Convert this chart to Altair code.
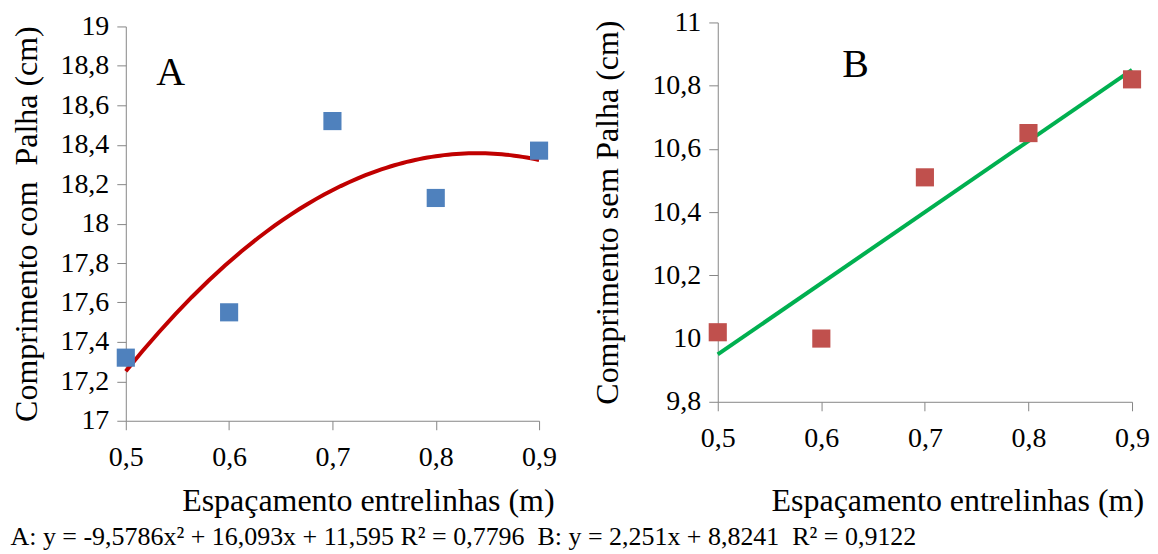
import altair as alt
import pandas as pd

# ---- data ----
espacamento = [0.5, 0.6, 0.7, 0.8, 0.9]
com_palha = [17.32, 17.55, 18.52, 18.13, 18.37]
sem_palha = [10.02, 10.00, 10.51, 10.65, 10.82]
x_ticks = [0.5, 0.6, 0.7, 0.8, 0.9]
y_ticks_a = [17, 17.2, 17.4, 17.6, 17.8, 18, 18.2, 18.4, 18.6, 18.8, 19]
y_ticks_b = [9.8, 10, 10.2, 10.4, 10.6, 10.8, 11]
footer = ("A: y = -9,5786x\u00b2 + 16,093x + 11,595 R\u00b2 = 0,7796\u00a0 "
          "B: y = 2,251x + 8,8241\u00a0 R\u00b2 = 0,9122")

df_a = pd.DataFrame({"x": espacamento, "y": com_palha})
df_b = pd.DataFrame({"x": espacamento, "y": sem_palha})

FONT = "Liberation Serif"
GRAY = "#868686"
LBL = "replace(format(datum.value, '~g'), '.', ',')"

W_A, H_A = 414, 399
W_B, H_B = 415, 380


def x_axis(title_x, title_y):
    return alt.Axis(values=x_ticks, labelExpr=LBL, title="Espaçamento entrelinhas (m)",
                    grid=False, tickSize=9, labelPadding=14, labelFontSize=28,
                    labelFont=FONT, labelColor="black", domainColor=GRAY, tickColor=GRAY,
                    titleFont=FONT, titleFontSize=32, titleFontWeight="normal",
                    titleColor="black", titleX=title_x, titleY=title_y,
                    titleBaseline="alphabetic", titleAlign="center", labelFlush=False)


def y_axis(title, values, pad):
    return alt.Axis(values=values, labelExpr=LBL, title=title, grid=False,
                    tickSize=9, labelPadding=8, labelFontSize=28, labelFont=FONT,
                    labelColor="black", domainColor=GRAY, tickColor=GRAY,
                    titleFont=FONT, titleFontSize=32, titleFontWeight="normal",
                    titleColor="black", titlePadding=pad, labelFlush=False)


xa = alt.X("x:Q", scale=alt.Scale(domain=[0.5, 0.9], nice=False, zero=False),
           axis=x_axis(367.5 - 125, 90))
ya = alt.Y("y:Q", scale=alt.Scale(domain=[17, 19], nice=False, zero=False,
                                  range=[H_A, 4]),
           axis=y_axis("Comprimento com\u00a0 Palha (cm)", y_ticks_a, 16.5))

base_a = alt.Chart(df_a)
pts_a = base_a.mark_square(size=330, color="#4F81BD", opacity=1).encode(x=xa, y=ya)
fit_a = base_a.transform_regression("x", "y", method="poly", order=2,
                                    extent=[0.5, 0.9]).mark_line(
    color="#C00000", strokeWidth=4).encode(x=xa, y=ya)
lab_a = alt.Chart(pd.DataFrame({"t": ["A"]})).mark_text(
    font=FONT, fontSize=40, align="center", baseline="alphabetic", color="black"
).encode(text="t:N", x=alt.value(45), y=alt.value(63))

panel_a = alt.layer(fit_a, pts_a, lab_a).properties(width=W_A, height=H_A)

xb = alt.X("x:Q", scale=alt.Scale(domain=[0.5, 0.9], nice=False, zero=False),
           axis=x_axis(957 - 717, 109))
yb = alt.Y("y:Q", scale=alt.Scale(domain=[9.8, 11], nice=False, zero=False),
           axis=y_axis("Comprimento sem Palha (cm)", y_ticks_b, 27))

base_b = alt.Chart(df_b)
pts_b = base_b.mark_square(size=330, color="#C0504D", opacity=1).encode(x=xb, y=yb)
fit_b = base_b.transform_regression("x", "y", method="linear",
                                    extent=[0.5, 0.9]).mark_line(
    color="#00B050", strokeWidth=4).encode(x=xb, y=yb)
lab_b = alt.Chart(pd.DataFrame({"t": ["B"]})).mark_text(
    font=FONT, fontSize=40, align="center", baseline="alphabetic", color="black"
).encode(text="t:N", x=alt.value(138), y=alt.value(55))

panel_b = alt.layer(fit_b, pts_b, lab_b).properties(width=W_B, height=H_B)

chart = alt.hconcat(panel_a, panel_b, spacing=35).properties(
    padding={"left": 2, "top": 0, "right": 0, "bottom": 0}, background="white",
    title=alt.TitleParams(footer, orient="bottom", anchor="start", font=FONT,
                          fontSize=26, fontWeight="normal", color="black",
                          offset=7)
).configure_view(stroke=None)

chart.save("out.html", embed_options={"renderer": "svg", "actions": False})
